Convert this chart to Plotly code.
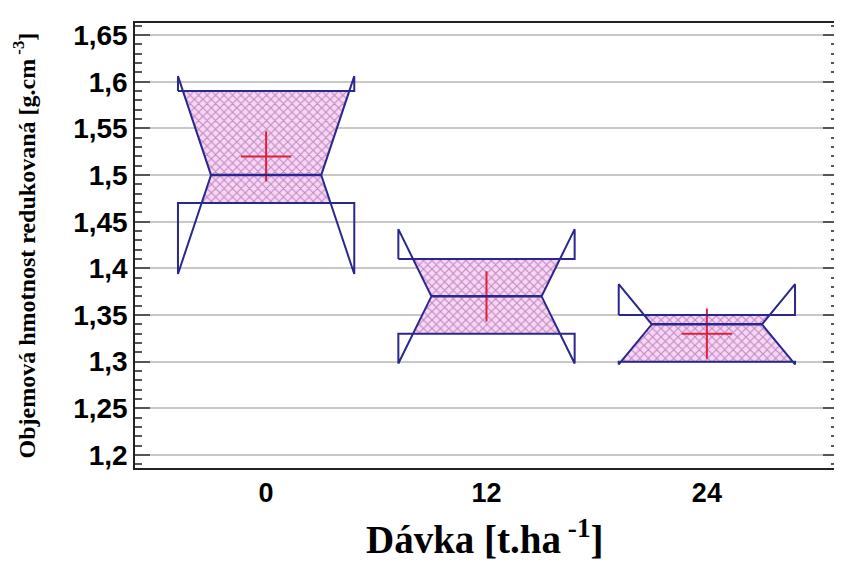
import plotly.graph_objects as go

# ---- data ----
doses = ["0", "12", "24"]
q1 = [1.47, 1.33, 1.30]
q3 = [1.59, 1.41, 1.35]
medians = [1.50, 1.37, 1.34]
notch_lo = [1.394, 1.298, 1.297]
notch_hi = [1.606, 1.442, 1.383]
means = [1.52, 1.37, 1.33]

ytick_vals = [1.2, 1.25, 1.3, 1.35, 1.4, 1.45, 1.5, 1.55, 1.6, 1.65]
ytick_text = ["1,2", "1,25", "1,3", "1,35", "1,4", "1,45", "1,5", "1,55", "1,6", "1,65"]

# ---- style ----
HALF_W = 0.40
INDENT = 0.15
OUTLINE = "#28288f"
RED = "#e0203a"

fig = go.Figure()


def x_left(i, y, med, h):
    L = i - HALF_W
    return L + INDENT * (1 - min(abs(y - med) / h, 1.0))


for i in range(len(doses)):
    L, R = i - HALF_W, i + HALF_W
    med = medians[i]
    h_up = notch_hi[i] - med
    h_dn = med - notch_lo[i]
    top = q3[i]
    bot = q1[i]
    xt = x_left(i, top, med, h_up)
    xb = x_left(i, bot, med, h_dn)
    fx = [xt, L + INDENT, xb, 2 * i - xb, R - INDENT, 2 * i - xt, xt]
    fy = [top, med, bot, bot, med, top, top]
    fig.add_trace(go.Scatter(
        x=fx, y=fy, mode="lines", fill="toself",
        line=dict(width=0, color=OUTLINE),
        fillcolor="#f3d3f0",
        fillpattern=dict(shape="x", fgcolor="#8a3d8a", bgcolor="#f8d6f5",
                         size=6, solidity=0.35),
        hoverinfo="skip", showlegend=False))

# mean markers
fig.add_trace(go.Scatter(
    x=list(range(len(doses))), y=means, mode="markers",
    marker=dict(symbol="cross-thin", size=36,
                line=dict(color=RED, width=2)),
    showlegend=False, hoverinfo="skip"))

for i in range(len(doses)):
    L, R = i - HALF_W, i + HALF_W
    med = medians[i]
    ox = [L, L, L + INDENT, L, L, R, R, R - INDENT, R, R, L]
    oy = [q3[i], notch_hi[i], med, notch_lo[i], q1[i], q1[i], notch_lo[i], med,
          notch_hi[i], q3[i], q3[i]]
    fig.add_trace(go.Scatter(x=ox, y=oy, mode="lines",
                             line=dict(color=OUTLINE, width=2),
                             showlegend=False, hoverinfo="skip"))
    fig.add_trace(go.Scatter(x=[L + INDENT, R - INDENT], y=[med, med], mode="lines",
                             line=dict(color=OUTLINE, width=2.5),
                             showlegend=False, hoverinfo="skip"))

# page body has an 8px default margin; size the figure to compensate
fig.update_layout(
    width=834, height=559,
    margin=dict(l=127, r=2, t=15, b=99),
    paper_bgcolor="white", plot_bgcolor="white",
    xaxis=dict(range=[-0.595, 2.595], tickmode="array",
               tickvals=list(range(len(doses))), ticktext=doses,
               showgrid=False, zeroline=False, ticks="",
               showline=True, mirror=True, linecolor="#222", linewidth=1.5,
               tickfont=dict(family="Liberation Sans", size=27, color="black",
                             weight="bold")),
    yaxis=dict(range=[1.186, 1.663], tickmode="array",
               tickvals=ytick_vals, ticktext=ytick_text,
               showgrid=True, gridcolor="#c8c8c8", gridwidth=2,
               zeroline=False, ticks="inside", ticklen=15, tickcolor="#555",
               tickwidth=1.5,
               minor=dict(dtick=0.01, tick0=1.2, ticks="inside", ticklen=7,
                          tickcolor="#555", tickwidth=1.5, showgrid=False),
               showline=True, mirror="ticks", linecolor="#222", linewidth=1.5,
               tickfont=dict(family="Liberation Sans", size=28, color="black",
                             weight="bold")),
    annotations=[
        dict(text="Objemová hmotnost redukovaná [g.cm<sup> -3</sup>]",
             xref="paper", yref="paper", x=-0.158, y=0.5,
             xanchor="center", yanchor="middle", textangle=-90, showarrow=False,
             font=dict(family="Liberation Serif", size=24, color="black",
                       weight="bold")),
        dict(text="Dávka [t.ha<sup> -1</sup>]",
             xref="paper", yref="paper", x=0.498, y=-0.155,
             xanchor="center", yanchor="middle", showarrow=False,
             font=dict(family="Liberation Serif", size=39, color="black",
                       weight="bold")),
    ],
)

fig.write_html("out.html")
